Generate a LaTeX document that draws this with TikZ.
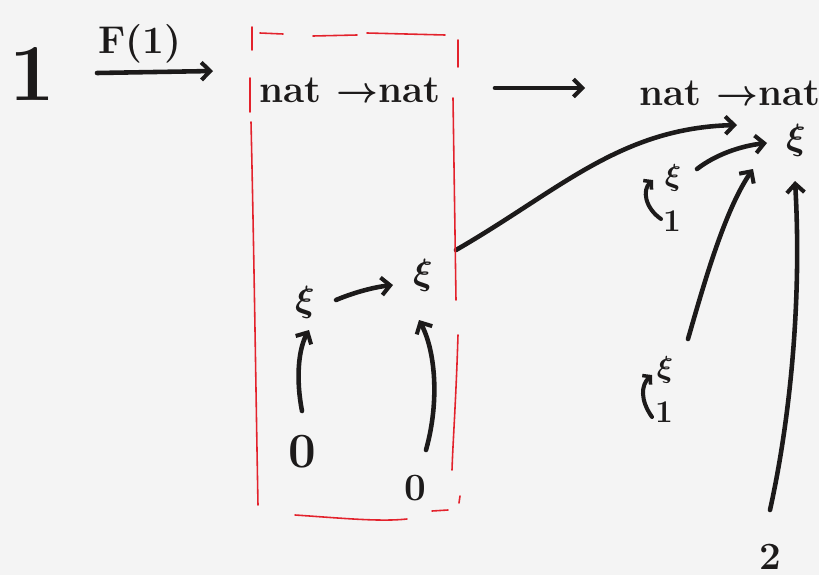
\documentclass[tikz,border=0pt]{standalone}
\usepackage{amsmath}
\usetikzlibrary{arrows.meta}
\definecolor{paper}{HTML}{F4F4F4}
\definecolor{inkc}{HTML}{1C1A1A}
\definecolor{pen}{HTML}{E3222C}
\begin{document}
\begin{tikzpicture}[x=0.02cm,y=-0.02cm,
  ink/.style={draw=inkc, line width=2.6pt, line cap=round},
  arr/.style={ink, -{Straight Barb[length=5pt,width=10pt,line width=2.3pt]}},
  lbl/.style={text=inkc, inner sep=0pt, font=\fontsize{22}{22}\selectfont\bfseries},
  sym/.style={text=inkc, inner sep=0pt, font=\fontsize{20}{20}\selectfont\boldmath},
  smallsym/.style={sym, font=\fontsize{17}{17}\selectfont\boldmath},
  frame/.style={draw=pen, line width=0.9pt, line cap=round}]
\fill[paper] (0,0) rectangle (819,575);
\useasboundingbox (0,0) rectangle (819,575);

% labels
\node[lbl, font=\fontsize{46}{46}\selectfont\bfseries] (one) at (32,74) {1};
\node[lbl] (fone) at (140,44) {F(1)};
\node[lbl] (nat1) at (350,90) {nat $\boldsymbol{\to}$nat};
\node[lbl] (nat2) at (730,93) {nat $\boldsymbol{\to}$nat};
\node[sym] (xa) at (305,302) {$\xi$};
\node[sym] (xb) at (423,275) {$\xi$};
\node[lbl, font=\fontsize{28}{28}\selectfont\bfseries] (zb) at (302,452) {0};
\node[lbl] (zs) at (415,488) {0};
\node[sym] (xc) at (796,140) {$\xi$};
\node[smallsym] (xd) at (673,178) {$\xi$};
\node[lbl, font=\fontsize{18}{18}\selectfont\bfseries] (d1) at (672,221) {1};
\node[smallsym] (xe) at (665,370) {$\xi$};
\node[lbl, font=\fontsize{18}{18}\selectfont\bfseries] (e1) at (664,412) {1};
\node[lbl] (two) at (770,557) {2};

% arrow ends
\coordinate (fs) at (97,73);   \coordinate (fe) at (213,71);
\coordinate (ms) at (495,88);  \coordinate (me) at (585,88);
\coordinate (abs) at (336,300); \coordinate (abe) at (393,285);
\coordinate (zbs) at (302,411); \coordinate (zbe) at (309,330);
\coordinate (zss) at (426,450); \coordinate (zse) at (419,320);
\coordinate (bcs) at (456,250); \coordinate (bce) at (737,125);
\coordinate (dcs) at (697,169); \coordinate (dce) at (767,143);
\coordinate (d1s) at (661,219); \coordinate (d1e) at (653,180);
\coordinate (ecs) at (688,339); \coordinate (ece) at (753,169);
\coordinate (e1s) at (652,417); \coordinate (e1e) at (652,375);
\coordinate (tws) at (770,510); \coordinate (twe) at (795,181);

% connectors
\draw[arr] (fs) -- (fe);
\draw[arr] (ms) -- (me);
\draw[arr] (abs) .. controls (355,292) and (375,287) .. (abe);
\draw[arr] (zbs) .. controls (296,380) and (298,350) .. (zbe);
\draw[arr] (zss) .. controls (440,400) and (435,350) .. (zse);
\draw[arr] (bcs) .. controls (560,190) and (620,128) .. (bce);
\draw[arr] (dcs) .. controls (715,155) and (740,146) .. (dce);
\draw[arr] (ecs) .. controls (705,280) and (725,210) .. (ece);
\draw[arr] (tws) .. controls (790,420) and (802,300) .. (twe);
\draw[ink, line width=2.3pt, -{Straight Barb[length=3pt,width=7pt,line width=2pt]}]
  (d1s) .. controls (645,208) and (642,190) .. (d1e);
\draw[ink, line width=2.3pt, -{Straight Barb[length=3pt,width=7pt,line width=2pt]}]
  (e1s) .. controls (640,400) and (641,385) .. (e1e);

% red dashed frame
\draw[frame] (260,33) -- (283,34);
\draw[frame] (313,36) -- (357,35);
\draw[frame] (367,33) -- (445,35);
\draw[frame] (252,27) -- (252,50);
\draw[frame] (250,78) -- (250,112);
\draw[frame] (251,122) .. controls (254,250) and (256,400) .. (258,505);
\draw[frame] (458,40) -- (458,67);
\draw[frame] (453,98) -- (456,300);
\draw[frame] (458,335) .. controls (456,400) and (453,440) .. (452,470);
\draw[frame] (460,496) -- (459,503);
\draw[frame] (295,515) .. controls (340,518) and (380,522) .. (407,519);
\draw[frame] (432,511) -- (448,510);
\end{tikzpicture}
\end{document}
